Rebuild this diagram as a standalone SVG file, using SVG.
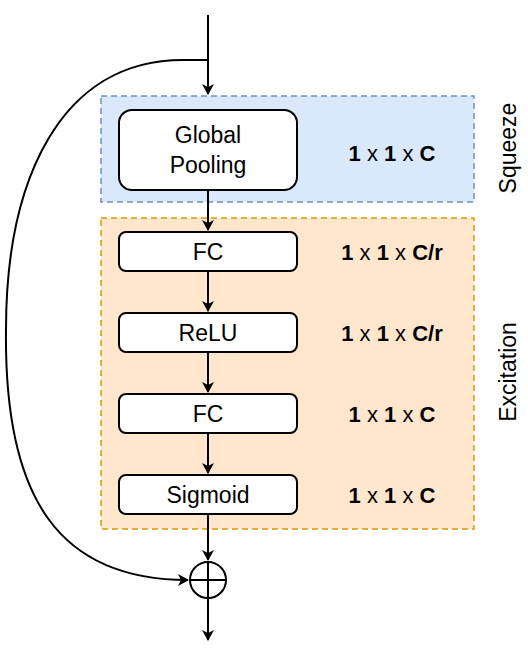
<svg xmlns="http://www.w3.org/2000/svg" width="528" height="660" viewBox="0 0 528 660">
<defs>
<marker id="ah" markerWidth="12" markerHeight="12" refX="10" refY="6" orient="auto" markerUnits="userSpaceOnUse">
<path d="M0,0 L11,6 L0,12 L3,6 Z" fill="#000"/>
</marker>
<style>
.node{fill:#fff;stroke:#000;stroke-width:2}
.t{font-family:"Liberation Sans",Arial,sans-serif;font-size:23px;fill:#000;text-anchor:middle}
.dim{font-family:"Liberation Sans",Arial,sans-serif;font-size:22px;fill:#000;text-anchor:middle}
.b{font-weight:bold}
.edge{fill:none;stroke:#000;stroke-width:2}
</style>
</defs>
<rect width="528" height="660" fill="#fff"/>
<g id="squeeze">
<rect x="101" y="96" width="373" height="106" fill="#dae8fc" stroke="#6c8ebf" stroke-width="1.5" stroke-dasharray="6,4"/>
<text class="t" transform="translate(516,148) rotate(-90)">Squeeze</text>
</g>
<g id="excitation">
<rect x="101" y="218" width="373" height="311" fill="#ffe6cc" stroke="#d79b00" stroke-width="1.5" stroke-dasharray="6,4"/>
<text class="t" transform="translate(516,372) rotate(-90)">Excitation</text>
</g>
<g id="connectors">
<line class="edge" x1="208" y1="15" x2="208" y2="94" marker-end="url(#ah)"/>
<line class="edge" x1="208" y1="190" x2="208" y2="230" marker-end="url(#ah)"/>
<line class="edge" x1="208" y1="271" x2="208" y2="311" marker-end="url(#ah)"/>
<line class="edge" x1="208" y1="352" x2="208" y2="392" marker-end="url(#ah)"/>
<line class="edge" x1="208" y1="433" x2="208" y2="473" marker-end="url(#ah)"/>
<line class="edge" x1="208" y1="514" x2="208" y2="560" marker-end="url(#ah)"/>
<line class="edge" x1="208" y1="598" x2="208" y2="640" marker-end="url(#ah)"/>
<path class="edge" d="M208,60 L183,60 C60,60 6,180 6,330 C4,500 60,580 188,580" marker-end="url(#ah)"/>
</g>
<g id="global-pooling">
<rect class="node" x="119" y="110" width="178" height="80" rx="13"/>
<text class="t" x="208" y="143">Global</text>
<text class="t" x="208" y="173">Pooling</text>
</g>
<g id="fc1">
<rect class="node" x="119" y="232" width="178" height="39" rx="7"/>
<text class="t" x="208" y="260">FC</text>
</g>
<g id="relu">
<rect class="node" x="119" y="313" width="178" height="39" rx="7"/>
<text class="t" x="208" y="341">ReLU</text>
</g>
<g id="fc2">
<rect class="node" x="119" y="394" width="178" height="39" rx="7"/>
<text class="t" x="208" y="422">FC</text>
</g>
<g id="sigmoid">
<rect class="node" x="119" y="475" width="178" height="39" rx="7"/>
<text class="t" x="208" y="503">Sigmoid</text>
</g>
<g id="sum">
<circle cx="208" cy="580" r="18" fill="#fff" stroke="#000" stroke-width="2"/>
<line x1="190" y1="580" x2="226" y2="580" stroke="#000" stroke-width="2"/>
<line x1="208" y1="562" x2="208" y2="598" stroke="#000" stroke-width="2"/>
</g>
<g id="dims">
<text class="dim" x="392" y="161"><tspan class="b">1</tspan> x <tspan class="b">1</tspan> x <tspan class="b">C</tspan></text>
<text class="dim" x="392" y="260"><tspan class="b">1</tspan> x <tspan class="b">1</tspan> x <tspan class="b">C/r</tspan></text>
<text class="dim" x="392" y="341"><tspan class="b">1</tspan> x <tspan class="b">1</tspan> x <tspan class="b">C/r</tspan></text>
<text class="dim" x="392" y="422"><tspan class="b">1</tspan> x <tspan class="b">1</tspan> x <tspan class="b">C</tspan></text>
<text class="dim" x="392" y="503"><tspan class="b">1</tspan> x <tspan class="b">1</tspan> x <tspan class="b">C</tspan></text>
</g>
</svg>
